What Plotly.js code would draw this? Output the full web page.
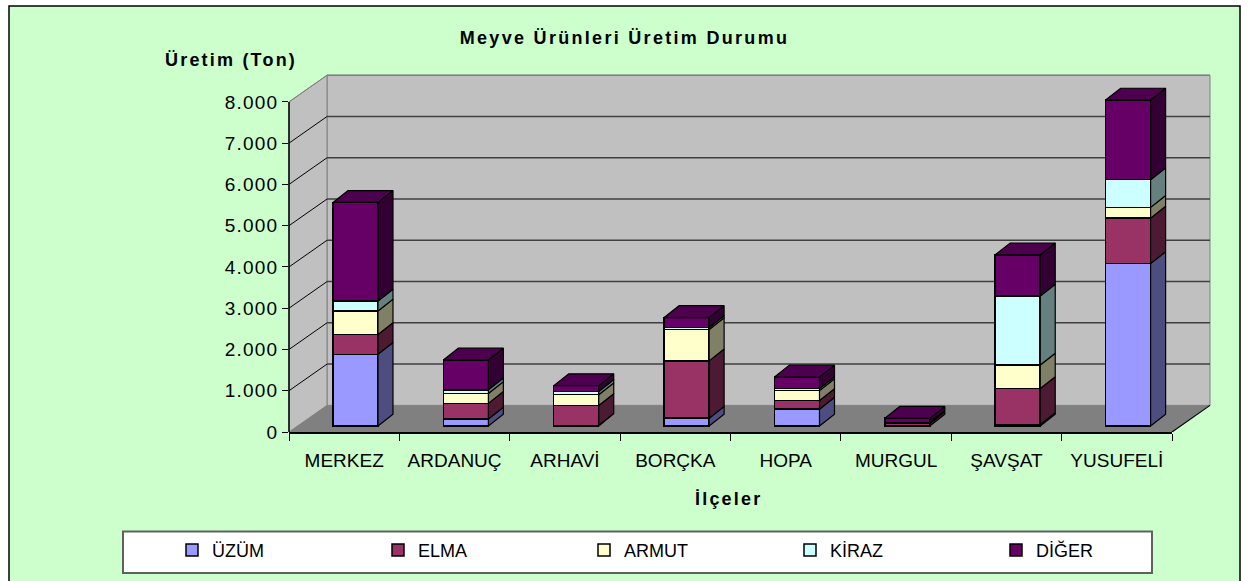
<!DOCTYPE html>
<html><head><meta charset="utf-8">
<script src="https://cdn.plot.ly/plotly-3.0.1.min.js"></script>
<style>
html,body{margin:0;padding:0;background:#fff;}
#chart{width:1249px;height:581px;}
.gtitle{letter-spacing:2.3px;}
.annotation-text{letter-spacing:2.2px;}
.ytick text{letter-spacing:1.2px;}
</style></head><body><div id="chart"></div>
<script>
// ---- data ----
const categories = ['MERKEZ','ARDANUÇ','ARHAVİ','BORÇKA','HOPA','MURGUL','ŞAVŞAT','YUSUFELİ'];
const seriesNames = ['ÜZÜM','ELMA','ARMUT','KİRAZ','DİĞER'];
const uzum  = [1740, 170,  20,  190, 410,  0,   40, 3940];
const elma  = [ 480, 380, 480, 1390, 210, 60,  870, 1100];
const armut = [ 570, 240, 260,  760, 240, 20,  570,  260];
const kiraz = [ 240,  90,  80,   50,  50, 10, 1670,  670];
const diger = [2390, 720, 140,  240, 280, 100, 1000, 1930];
const yTickValues = [0,1000,2000,3000,4000,5000,6000,7000,8000];
const yTickLabels = ['0','1.000','2.000','3.000','4.000','5.000','6.000','7.000','8.000'];

// ---- style / geometry ----
const frontColors = ['#9999FF','#993366','#FFFFCC','#CCFFFF','#660066'];
const sideColors  = ['#4D4D80','#4D1A33','#808066','#668080','#330033'];
const topColor = '#4D004D';
const FONT = 'Arial, "Liberation Sans", sans-serif';
const W=1249,H=581,L=289,R=77,T=73,B=144;
const plotW=W-L-R, plotH=H-T-B;
const yMax=8700;
const nCat=categories.length;
const ux = nCat/plotW;          // category units per px
const uy = yMax/plotH;          // data units per px
const pxX = p => (p-L)/plotW;   // pixel -> paper x
const pxY = p => (H-B-p)/plotH; // pixel -> paper y
const barDX=11.3*ux, barDY=6*uy;      // bar plane offset
const depX=15*ux, depY=12*uy;         // bar depth
const backXp=38/plotW, backY=27*uy;   // wall depth
const barW=45*ux;

const series=[uzum,elma,armut,kiraz,diger];
const idx=categories.map((c,i)=>i);
const traces=[];

// invisible trace for category axis
traces.push({type:'scatter',x:categories,y:categories.map(()=>0),mode:'markers',
  marker:{opacity:0},hoverinfo:'skip',showlegend:false,xaxis:'x',yaxis:'y'});

// front faces (bars)
series.forEach((s,k)=>{
  traces.push({type:'bar',name:seriesNames[k],x:idx,y:s,width:barW,
    marker:{color:frontColors[k],line:{color:'#000',width:1.5}},
    xaxis:'x2',yaxis:'y2',hoverinfo:'y+name'});
});

// side and top faces
const cum=idx.map(()=>0);
const sideX=series.map(()=>[]), sideY=series.map(()=>[]);
series.forEach((s,k)=>{
  idx.forEach(i=>{
    const b=cum[i], t=b+s[i];
    if(s[i]>0){
      const xr=i+barW/2;
      sideX[k].push(xr,xr+depX,xr+depX,xr,xr,null);
      sideY[k].push(b,b+depY,t+depY,t,b,null);
    }
    cum[i]=t;
  });
});
series.forEach((s,k)=>{
  traces.push({type:'scatter',mode:'lines',x:sideX[k],y:sideY[k],fill:'toself',
    fillcolor:sideColors[k],line:{color:'#000',width:1.2},hoverinfo:'skip',
    showlegend:false,xaxis:'x2',yaxis:'y2'});
});
const topX=[],topY=[];
idx.forEach(i=>{
  const t=cum[i], xl=i-barW/2, xr=i+barW/2;
  topX.push(xl,xl+depX,xr+depX,xr,xl,null);
  topY.push(t,t+depY,t+depY,t,t,null);
});
traces.push({type:'scatter',mode:'lines',x:topX,y:topY,fill:'toself',fillcolor:topColor,
  line:{color:'#000',width:1.2},hoverinfo:'skip',showlegend:false,xaxis:'x2',yaxis:'y2'});

// ---- decorative shapes ----
const yTop=yTickValues[yTickValues.length-1];
const shapes=[
  {type:'rect',xref:'paper',yref:'paper',x0:pxX(9),x1:pxX(1240),y0:pxY(620),y1:pxY(5),
   fillcolor:'#CCFFCC',line:{color:'#000',width:1.5},layer:'below'},
  {type:'rect',xref:'paper',yref:'paper',x0:pxX(123),x1:pxX(1152),y0:pxY(580),y1:pxY(538),
   fillcolor:'#FFFFFF',line:{color:'#606060',width:2},layer:'below'},
  {type:'path',xref:'paper',yref:'y',layer:'below',fillcolor:'#C0C0C0',line:{color:'#808080',width:1},
   path:`M${backXp},${backY}L${1+backXp},${backY}L${1+backXp},${yTop+backY}L${backXp},${yTop+backY}Z`},
  {type:'path',xref:'paper',yref:'y',layer:'below',fillcolor:'#C0C0C0',line:{color:'#808080',width:1},
   path:`M0,0L0,${yTop}L${backXp},${yTop+backY}L${backXp},${backY}Z`},
  {type:'path',xref:'paper',yref:'y',layer:'below',fillcolor:'#808080',line:{width:0},
   path:`M0,0L1,0L${1+backXp},${backY}L${backXp},${backY}Z`},
  {type:'line',xref:'paper',yref:'y',layer:'below',x0:1,y0:0,x1:1+backXp,y1:backY,line:{color:'#000',width:1.2}},
];
yTickValues.forEach(v=>{
  if(v===0) return;
  const isTop=(v===yTop);
  shapes.push({type:'line',xref:'paper',yref:'y',layer:'below',x0:backXp,x1:1+backXp,y0:v+backY,y1:v+backY,
    line:{color:isTop?'#808080':'#404040',width:1.5}});
  shapes.push({type:'line',xref:'paper',yref:'y',layer:'below',x0:0,x1:backXp,y0:v,y1:v+backY,
    line:{color:isTop?'#808080':'#000',width:1}});
});
shapes.push({type:'line',xref:'paper',yref:'y',layer:'below',x0:0,x1:0,y0:0,y1:yTop,line:{color:'#000',width:1.5}});

const layout={
  width:W,height:H,
  margin:{l:L,r:R,t:T,b:B},
  paper_bgcolor:'#FFFFFF',plot_bgcolor:'rgba(0,0,0,0)',
  font:{family:FONT,color:'#000'},
  barmode:'stack',
  showlegend:true,
  title:{text:'Meyve Ürünleri Üretim Durumu',font:{family:FONT,size:18,weight:'bold',color:'#000'},
    x:0.5,xref:'container',xanchor:'center',y:1-38/H,yref:'container',yanchor:'middle'},
  xaxis:{type:'category',range:[-0.5,nCat-0.5],showgrid:false,zeroline:false,
    showline:true,linecolor:'#000',linewidth:1.5,tickson:'boundaries',ticks:'outside',ticklen:7,
    tickcolor:'#000',tickwidth:1,tickfont:{family:FONT,size:19,color:'#000'},ticklabelstandoff:11,fixedrange:true},
  yaxis:{range:[0,yMax],tickmode:'array',tickvals:yTickValues,ticktext:yTickLabels,showgrid:false,
    zeroline:false,showline:false,ticks:'outside',ticklen:6,tickcolor:'#000',
    tickfont:{family:FONT,size:19,color:'#000'},fixedrange:true},
  xaxis2:{overlaying:'x',range:[-0.5-barDX,nCat-0.5-barDX],visible:false,fixedrange:true},
  yaxis2:{overlaying:'y',range:[-barDY,yMax-barDY],visible:false,fixedrange:true},
  legend:{orientation:'h',x:pxX(172),xanchor:'left',y:pxY(557),yanchor:'middle',
    bgcolor:'rgba(0,0,0,0)',borderwidth:0,entrywidth:161,traceorder:'normal',
    font:{family:FONT,size:18,color:'#000'}},
  shapes:shapes,
  annotations:[
    {text:'Üretim (Ton)',xref:'paper',yref:'paper',x:pxX(231),y:pxY(60),showarrow:false,
     xanchor:'center',yanchor:'middle',font:{family:FONT,size:18,weight:'bold',color:'#000'}},
    {text:'İlçeler',xref:'paper',yref:'paper',x:pxX(728),y:pxY(505),showarrow:false,
     xanchor:'center',yanchor:'middle',font:{family:FONT,size:18,weight:'bold',color:'#000'}}
  ]
};
Plotly.newPlot('chart',traces,layout,{displayModeBar:false,staticPlot:true});
</script></body></html>
